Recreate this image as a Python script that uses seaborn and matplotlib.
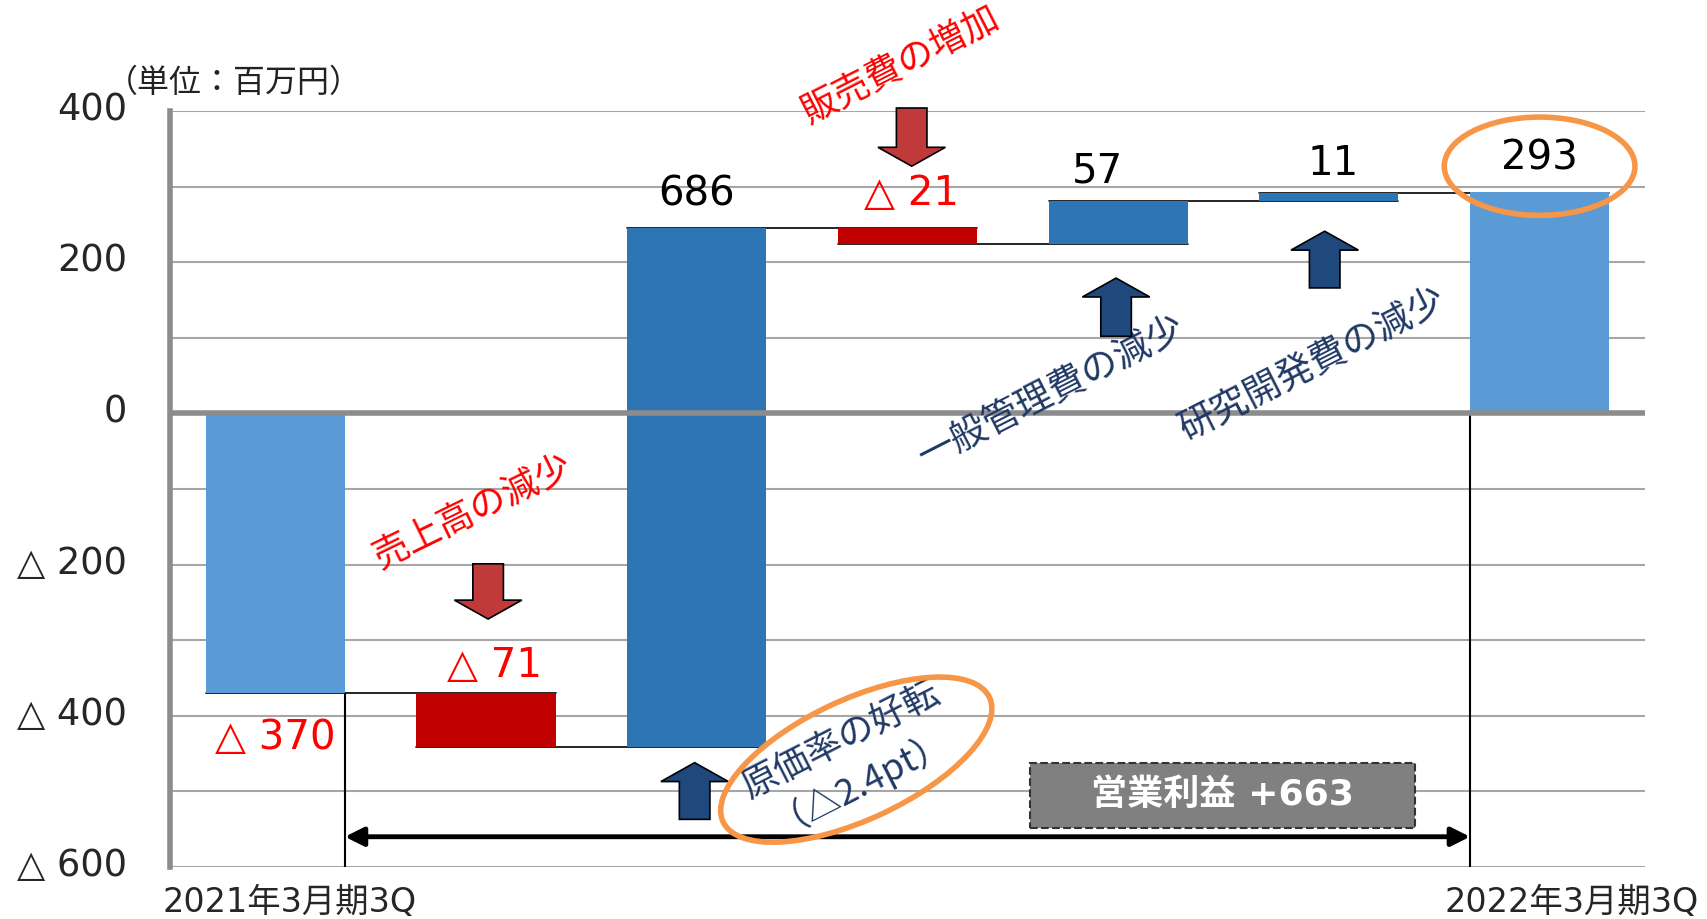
import numpy as np
import pandas as pd
import matplotlib
matplotlib.use("Agg")
import matplotlib.pyplot as plt
import seaborn as sns
from matplotlib.patches import Ellipse, FancyArrow, Rectangle
from matplotlib.transforms import ScaledTranslation, blended_transform_factory

# ---------------- data ----------------
categories = ["2021年3月期3Q", "売上高の減少", "原価率の好転", "販売費の増加",
              "一般管理費の減少", "研究開発費の減少", "2022年3月期3Q"]
values = [-370, -71, 686, -21, 57, 11, 293]
is_total = [True, False, False, False, False, False, True]
value_labels = ["△ 370", "△ 71", "686", "△ 21", "57", "11", "293"]
x_tick_labels = ["2021年3月期3Q", "2022年3月期3Q"]
y_ticks = [400, 200, 0, -200, -400, -600]
y_tick_labels = ["400", "200", "0", "△ 200", "△ 400", "△ 600"]
unit_label = "（単位：百万円）"
total_label = "営業利益 +663"

# waterfall bottoms
bottoms = []
running = 0
for v, t in zip(values, is_total):
    if t:
        bottoms.append(0)
        running = v
    else:
        bottoms.append(running)
        running += v
ends = [b + v for b, v in zip(bottoms, values)]

# ---------------- style ----------------
sns.set_style("white")
plt.rcParams["font.family"] = ["DejaVu Sans", "Noto Sans CJK JP"]

LIGHT = "#5B9BD5"
DARK = "#2E75B6"
RED = "#C00000"
NAVY = "#1F3864"
ARROW_BLUE = "#1F497D"
ARROW_RED = "#C0393B"
ORANGE = "#F79646"
bar_colors = [LIGHT, RED, DARK, RED, DARK, DARK, LIGHT]

fig = plt.figure(figsize=(17.08, 9.19), dpi=100)
ax = fig.add_axes([0.0995, 0.0566, 0.8636, 0.8226])

df = pd.DataFrame({"item": categories, "value": values})
sns.barplot(data=df, x="item", y="value", order=categories, bottom=bottoms,
            width=0.66, errorbar=None, ax=ax, zorder=3, color=LIGHT, saturation=1)
for p, c in zip(ax.patches, bar_colors):
    p.set_facecolor(c)
    p.set_edgecolor("none")

ax.set_xlim(-0.5, 6.5)
ax.set_ylim(-600, 400)
ax.set_xticks([])
ax.set_xlabel("")
ax.set_ylabel("")

# grid
for y in range(-600, 401, 100):
    ax.axhline(y, color="#A6A6A6", lw=1.5, zorder=1)
ax.axhline(0, color="#8C8C8C", lw=4, zorder=4)

ax.set_yticks(y_ticks)
ax.set_yticklabels(y_tick_labels, fontsize=26.5)
ax.tick_params(axis="y", length=0, pad=31)
shift_up = ScaledTranslation(0, 0.055, fig.dpi_scale_trans)
for lab in ax.get_yticklabels():
    lab.set_transform(lab.get_transform() + shift_up)
for s in ["top", "right", "bottom"]:
    ax.spines[s].set_visible(False)
ax.spines["left"].set_color("#8C8C8C")
ax.spines["left"].set_linewidth(4)

# connectors
hw = 0.33
for i in range(len(values) - 1):
    ax.plot([i - hw, i + 1 + hw], [ends[i], ends[i]], color="black", lw=1.2, zorder=2)

# vertical guide lines
ax.plot([hw, hw], [ends[0], -600], color="black", lw=1.5, zorder=2)
ax.plot([6 - hw, 6 - hw], [0, -600], color="black", lw=1.5, zorder=2)

# double arrow
ax.annotate("", xy=(6 - hw, -560), xytext=(hw, -560),
            arrowprops=dict(arrowstyle="<|-|>", lw=3.5, color="black",
                            mutation_scale=28, shrinkA=0, shrinkB=0), zorder=5)

# value labels
label_pos = [(0.0, -429), (1.04, -334), (2.0, 290), (3.02, 290), (3.9, 320), (5.02, 330), (6.0, 337)]
label_colors = ["#FF0000", "#FF0000", "black", "#FF0000", "black", "black", "black"]
for (x, y), t, c in zip(label_pos, value_labels, label_colors):
    ax.text(x, y, t, ha="center", va="center", fontsize=29, color=c, zorder=6)

# x labels
trans = blended_transform_factory(ax.transData, ax.transAxes)
ax.text(0.07, -0.047, x_tick_labels[0], transform=trans, ha="center", va="center", fontsize=24)
ax.text(6.15, -0.047, x_tick_labels[1], transform=trans, ha="center", va="center", fontsize=24)

# unit label
fig.text(0.062, 0.91, unit_label, fontsize=23, ha="left", va="center", color="#222222",
         family=["Noto Sans CJK JP"])

# rotated annotations
ax.text(2.97, 460, "販売費の増加", rotation=27, rotation_mode="anchor", ha="center", va="center",
        fontsize=26, color="#FF0000", clip_on=False)
ax.text(0.936, -131, "売上高の減少", rotation=26, rotation_mode="anchor", ha="center", va="center",
        fontsize=26, color="#FF0000")
ax.text(3.68, 28, "一般管理費の減少", rotation=27, rotation_mode="anchor", ha="center", va="center",
        fontsize=26.5, color=NAVY, zorder=6)
ax.text(4.92, 66, "研究開発費の減少", rotation=27, rotation_mode="anchor", ha="center", va="center",
        fontsize=26.5, color=NAVY, zorder=6)
ax.text(2.73, -455, "原価率の好転\n（△2.4pt）", rotation=27, rotation_mode="anchor",
        ha="center", va="center", multialignment="center", linespacing=1.0,
        fontsize=26, color=NAVY, zorder=6, family=["Noto Sans CJK JP"])

# block arrows
def block_arrow(x, y0, y1, fc):
    a = FancyArrow(x, y0, 0, y1 - y0, width=0.145, head_width=0.32, head_length=25,
                   length_includes_head=True, fc=fc, ec="black", lw=1.2, zorder=6, clip_on=False)
    ax.add_patch(a)

block_arrow(1.01, -199, -272, ARROW_RED)
block_arrow(3.02, 404, 327, ARROW_RED)
block_arrow(1.99, -537, -462, ARROW_BLUE)
block_arrow(3.99, 102, 179, ARROW_BLUE)
block_arrow(4.98, 166, 241, ARROW_BLUE)

# total box
ax.add_patch(Rectangle((3.58, -549), 1.83, 87, fc="#808080", ec="#333333", ls="--", lw=1.5, zorder=6))
ax.text(4.495, -505, total_label, ha="center", va="center", fontsize=26, color="white",
        fontweight="bold", zorder=7)

# ellipses
ax.add_patch(Ellipse((6.0, 327), 0.905, 130, fill=False, ec=ORANGE, lw=4, zorder=7, clip_on=False))
ell_tr = fig.dpi_scale_trans + ScaledTranslation(2.757, -458, ax.transData)
ax.add_patch(Ellipse((0, 0), 2.94, 1.20, angle=25, fill=False, ec=ORANGE, lw=4,
                     transform=ell_tr, zorder=7, clip_on=False))

fig.savefig("out.png", dpi=100)
